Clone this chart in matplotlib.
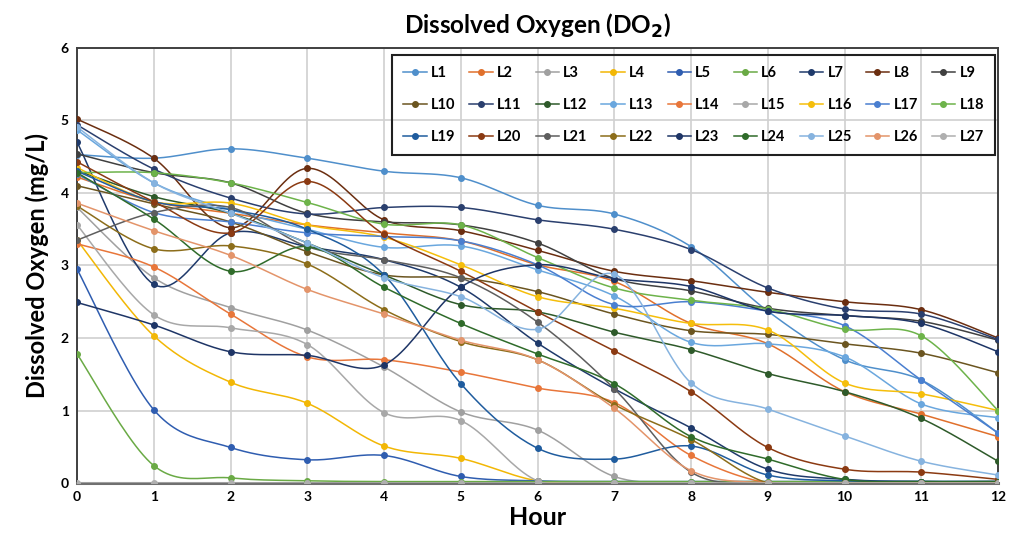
import numpy as np
import matplotlib.pyplot as plt
from matplotlib.lines import Line2D

plt.rcParams['font.family'] = ['Lato', 'DejaVu Sans']

# ---- data ----
hours = list(range(13))
names = [f"L{i}" for i in range(1, 28)]

L1 = [4.53, 4.48, 4.61, 4.48, 4.30, 4.21, 3.83, 3.71, 3.26, 2.37, 1.70, 1.42, 0.69]
L2 = [4.22, 3.88, 3.72, 3.56, 3.45, 3.34, 3.01, 2.78, 2.20, 1.92, 1.26, 0.95, 0.64]
L3 = [3.80, 2.83, 2.42, 2.11, 1.60, 0.98, 0.73, 0.09, 0.00, 0.00, 0.00, 0.00, 0.00]
L4 = [3.35, 2.03, 1.39, 1.10, 0.51, 0.34, 0.03, 0.00, 0.00, 0.00, 0.00, 0.00, 0.00]
L5 = [2.95, 1.01, 0.49, 0.32, 0.38, 0.09, 0.03, 0.02, 0.02, 0.02, 0.02, 0.02, 0.02]
L6 = [1.78, 0.24, 0.07, 0.03, 0.02, 0.02, 0.02, 0.02, 0.02, 0.02, 0.02, 0.02, 0.02]
L7 = [4.70, 2.74, 3.45, 3.26, 3.08, 2.70, 1.93, 1.30, 0.76, 0.19, 0.05, 0.02, 0.02]
L8 = [5.02, 4.48, 3.52, 4.34, 3.63, 3.48, 3.21, 2.92, 2.79, 2.63, 2.50, 2.39, 2.00]
L9 = [4.54, 4.28, 4.14, 3.72, 3.60, 3.56, 3.31, 2.82, 2.65, 2.41, 2.31, 2.23, 1.97]
L10 = [4.10, 3.85, 3.60, 3.19, 2.87, 2.83, 2.64, 2.33, 2.10, 2.05, 1.92, 1.79, 1.52]
L11 = [4.94, 4.33, 3.93, 3.71, 3.80, 3.80, 3.63, 3.50, 3.22, 2.69, 2.40, 2.33, 1.98]
L12 = [4.31, 3.95, 3.72, 3.31, 2.87, 2.46, 2.36, 2.08, 1.84, 1.51, 1.26, 0.89, 0.30]
L13 = [4.87, 4.14, 3.77, 3.50, 3.25, 3.27, 2.94, 2.58, 1.94, 1.92, 1.74, 1.09, 0.90]
L14 = [3.30, 2.98, 2.33, 1.74, 1.70, 1.53, 1.31, 1.11, 0.38, 0.00, 0.00, 0.00, 0.00]
L15 = [3.56, 2.32, 2.14, 1.91, 0.97, 0.86, 0.03, 0.00, 0.00, 0.00, 0.00, 0.00, 0.00]
L16 = [4.35, 3.88, 3.86, 3.56, 3.39, 3.01, 2.57, 2.41, 2.20, 2.11, 1.38, 1.23, 1.00]
L17 = [4.26, 3.73, 3.60, 3.45, 3.40, 3.34, 3.01, 2.46, 2.50, 2.37, 2.17, 1.42, 0.69]
L18 = [4.28, 4.28, 4.14, 3.87, 3.57, 3.56, 3.11, 2.69, 2.52, 2.40, 2.12, 2.03, 1.00]
L19 = [4.30, 3.88, 3.77, 3.50, 2.87, 1.37, 0.48, 0.33, 0.51, 0.11, 0.03, 0.02, 0.02]
L20 = [4.43, 3.88, 3.45, 4.16, 3.43, 2.92, 2.36, 1.82, 1.26, 0.49, 0.19, 0.15, 0.05]
L21 = [3.35, 3.73, 3.80, 3.26, 3.08, 2.83, 2.22, 1.30, 0.15, 0.00, 0.00, 0.00, 0.00]
L22 = [3.82, 3.23, 3.27, 3.02, 2.39, 1.95, 1.70, 1.08, 0.60, 0.00, 0.00, 0.00, 0.00]
L23 = [2.49, 2.18, 1.81, 1.76, 1.63, 2.70, 3.01, 2.82, 2.71, 2.37, 2.31, 2.20, 1.81]
L24 = [4.28, 3.64, 2.92, 3.26, 2.70, 2.20, 1.78, 1.37, 0.64, 0.33, 0.05, 0.02, 0.02]
L25 = [4.91, 4.14, 3.72, 3.31, 2.83, 2.57, 2.12, 2.88, 1.38, 1.02, 0.65, 0.30, 0.11]
L26 = [3.86, 3.48, 3.14, 2.67, 2.33, 1.97, 1.70, 1.03, 0.17, 0.00, 0.00, 0.00, 0.00]
L27 = [0.00] * 13

series = [L1, L2, L3, L4, L5, L6, L7, L8, L9, L10, L11, L12, L13, L14,
          L15, L16, L17, L18, L19, L20, L21, L22, L23, L24, L25, L26, L27]

colors = ["#4F8FCB", "#E0702C", "#A0A0A0", "#F2B705", "#2F5DB0", "#6AAA45",
          "#1F3A6B", "#6B2E10", "#404040", "#6B5520", "#2A3F6E", "#2E5A2A",
          "#6AA7DE", "#E8763A", "#A8A8A8", "#F5BE0B", "#4A7FD0", "#6DB34A",
          "#1F5C9E", "#8B3A12", "#5E5E5E", "#8C6D1A", "#1E3566", "#2F6B2A",
          "#86B3DF", "#E3946A", "#AFAFAF"]


def smooth(x, y, n=24):
    # Excel-like smoothed line (Catmull-Rom as cubic Bezier)
    x = np.asarray(x, float)
    y = np.asarray(y, float)
    P = np.column_stack([x, y])
    Pp = np.vstack([P[0], P, P[-1]])
    t = np.linspace(0, 1, n)[:, None]
    out = []
    for i in range(len(P) - 1):
        p0, p1, p2, p3 = Pp[i], Pp[i + 1], Pp[i + 2], Pp[i + 3]
        c1 = p1 + (p2 - p0) / 6
        c2 = p2 - (p3 - p1) / 6
        seg = ((1 - t) ** 3) * p1 + 3 * ((1 - t) ** 2) * t * c1 \
            + 3 * (1 - t) * t ** 2 * c2 + t ** 3 * p2
        out.append(seg if i == 0 else seg[1:])
    seg = np.vstack(out)
    return seg[:, 0], seg[:, 1]


fig = plt.figure(figsize=(10.15, 5.41), dpi=100)
ax = fig.add_axes([0.0759, 0.1072, 0.9074, 0.8041])

for y, c in zip(series, colors):
    sx, sy = smooth(hours, y)
    ax.plot(sx, sy, color=c, lw=1.1, zorder=3)
    ax.plot(hours, y, 'o', color=c, ms=4, zorder=4)

ax.set_xlim(0, 12)
ax.set_ylim(0, 6)
ax.set_xticks(hours)
ax.set_yticks(range(7))
ax.grid(True, color="#D0D0D0", lw=1.2)
ax.set_axisbelow(True)
for s in ax.spines.values():
    s.set_color("#404040")
    s.set_linewidth(1.4)
ax.spines['bottom'].set_color("#707070")
ax.spines['bottom'].set_linewidth(2.2)
ax.tick_params(length=0, labelsize=10, pad=6)
for lab in ax.get_xticklabels() + ax.get_yticklabels():
    lab.set_fontweight('bold')

ax.set_title("Dissolved Oxygen (DO$_\\mathbf{2}$)", fontsize=17.5,
             fontweight='bold', pad=10)
ax.set_xlabel("Hour", fontsize=18, fontweight='bold', labelpad=2)
ax.set_ylabel("Dissolved Oxygen (mg/L)", fontsize=17, fontweight='bold',
              labelpad=8)

# legend: 3 rows x 9 columns, filled row by row
handles = [Line2D([0], [0], color=c, lw=1.1, marker='o', ms=4)
           for c in colors]
order = [r * 9 + col for col in range(9) for r in range(3)]
leg = ax.legend([handles[i] for i in order], [names[i] for i in order],
                ncol=9, loc='upper right', bbox_to_anchor=(0.9965, 0.984),
                frameon=True, fancybox=False, facecolor='none',
                handlelength=1.6, handletextpad=0.3, columnspacing=0.95,
                labelspacing=1.25, borderpad=0.75, borderaxespad=0,
                prop={'weight': 'bold', 'size': 10.5})
leg.get_frame().set_edgecolor("#202020")
leg.get_frame().set_linewidth(1.5)
leg.get_frame().set_alpha(1)
leg.get_frame().set_facecolor('none')

fig.savefig("out.png", dpi=100, facecolor="white")
